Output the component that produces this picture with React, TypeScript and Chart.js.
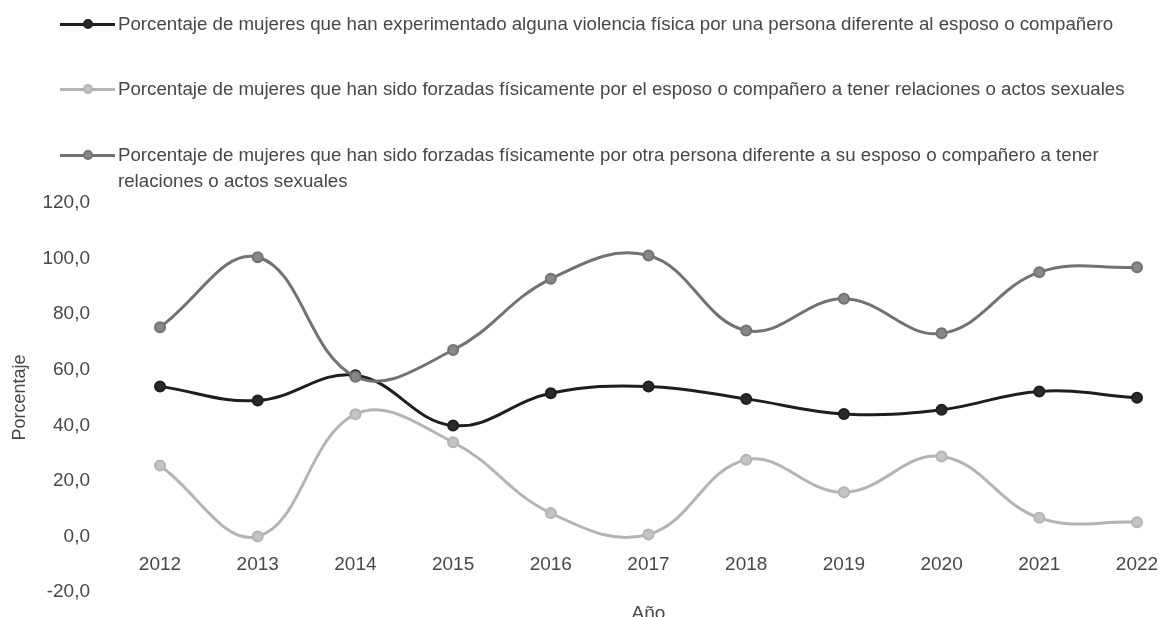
import React, { useEffect, useRef } from "react";
import { Chart, registerables } from "chart.js";

Chart.register(...registerables);

const years = ["2012", "2013", "2014", "2015", "2016", "2017", "2018", "2019", "2020", "2021", "2022"];

const seriesLabels = [
  "Porcentaje de mujeres que han experimentado alguna violencia física por una persona diferente al esposo o compañero",
  "Porcentaje de mujeres que han sido forzadas físicamente por el esposo o compañero a tener relaciones o actos sexuales",
  "Porcentaje de mujeres que han sido forzadas físicamente por otra persona diferente a su esposo o compañero a tener relaciones o actos sexuales",
];

const violenciaFisica = [54.0, 48.9, 58.0, 39.9, 51.5, 54.0, 49.5, 44.1, 45.6, 52.2, 49.9];
const forzadasEsposo = [25.5, 0.0, 44.0, 33.9, 8.4, 0.7, 27.6, 15.9, 28.8, 6.7, 5.1];
const forzadasOtra = [75.3, 100.5, 57.5, 67.1, 92.7, 101.1, 74.1, 85.5, 73.1, 95.1, 96.9];

const seriesColors = ["#1e1e1e", "#b4b4b4", "#727272"];
const pointFills = ["#2a2a2a", "#c4c4c4", "#888888"];

const yMin = -20;
const yMax = 120;
const yStep = 20;

const xTitle = "Año";
const yTitle = "Porcentaje";

const FONT = "'Liberation Sans', Arial, Helvetica, sans-serif";
const TEXT = "#474747";

const legendRows = [24, 89, 155];

export default function App() {
  const canvasRef = useRef<HTMLCanvasElement | null>(null);

  useEffect(() => {
    if (!canvasRef.current) return;
    const seriesData = [violenciaFisica, forzadasEsposo, forzadasOtra];
    const chart = new Chart(canvasRef.current, {
      type: "line",
      data: {
        labels: years,
        datasets: seriesData.map((d, i) => ({
          label: seriesLabels[i],
          data: d,
          borderColor: seriesColors[i],
          backgroundColor: pointFills[i],
          pointBackgroundColor: pointFills[i],
          pointBorderColor: seriesColors[i],
          borderWidth: 3,
          pointRadius: 5,
          pointBorderWidth: 2,
          tension: 0.4,
          fill: false,
          order: i === 2 ? 0 : i + 1,
        })),
      },
      options: {
        responsive: false,
        animation: false,
        layout: { padding: { top: 203, left: 9, right: 26, bottom: 25 } },
        plugins: {
          legend: { display: false },
          tooltip: { enabled: false },
        },
        scales: {
          x: {
            type: "category",
            position: { y: 0 } as any,
            offset: false,
            grid: { display: false, drawTicks: false },
            border: { display: false },
            ticks: {
              color: TEXT,
              font: { family: FONT, size: 19 },
              padding: 17,
              maxRotation: 0,
              autoSkip: false,
            },
            title: {
              display: true,
              text: xTitle,
              color: TEXT,
              font: { family: FONT, size: 19 },
              padding: 0,
            },
            afterFit: (scale: any) => {
              scale.height = 89;
              scale.paddingLeft = 0;
              scale.paddingRight = 0;
              scale.paddingTop = 0;
              scale.paddingBottom = 0;
            },
          },
          y: {
            min: yMin,
            max: yMax,
            grid: { display: false, drawTicks: false },
            border: { display: false },
            ticks: {
              stepSize: yStep,
              color: TEXT,
              font: { family: FONT, size: 19 },
              padding: 70,
              callback: (v: any) => Number(v).toFixed(1).replace(".", ","),
            },
            title: {
              display: true,
              text: yTitle,
              color: TEXT,
              font: { family: FONT, size: 18 },
              padding: 0,
            },
            afterFit: (scale: any) => {
              scale.width = 151;
              scale.paddingTop = 0;
              scale.paddingBottom = 0;
            },
          },
        },
      },
    });
    return () => chart.destroy();
  }, []);

  return (
    <div
      style={{
        position: "fixed",
        left: 0,
        top: 0,
        width: 1163,
        height: 617,
        overflow: "hidden",
        background: "#ffffff",
        fontFamily: FONT,
      }}
    >
      <canvas ref={canvasRef} width={1163} height={617} style={{ position: "absolute", left: 0, top: 0 }} />
      {seriesLabels.map((lab, i) => {
        const cy = legendRows[i];
        return (
          <React.Fragment key={i}>
            <div
              style={{
                position: "absolute",
                left: 60,
                top: cy - 1.5,
                width: 55,
                height: 3,
                background: seriesColors[i],
              }}
            />
            <div
              style={{
                position: "absolute",
                left: 83,
                top: cy - 5,
                width: 6,
                height: 6,
                borderRadius: "50%",
                background: pointFills[i],
                border: `2px solid ${seriesColors[i]}`,
              }}
            />
            <div
              style={{
                position: "absolute",
                left: 118,
                top: cy - 13,
                width: 1043,
                fontSize: 18.7,
                lineHeight: "26px",
                color: TEXT,
                whiteSpace: "normal",
              }}
            >
              {lab}
            </div>
          </React.Fragment>
        );
      })}
    </div>
  );
}
